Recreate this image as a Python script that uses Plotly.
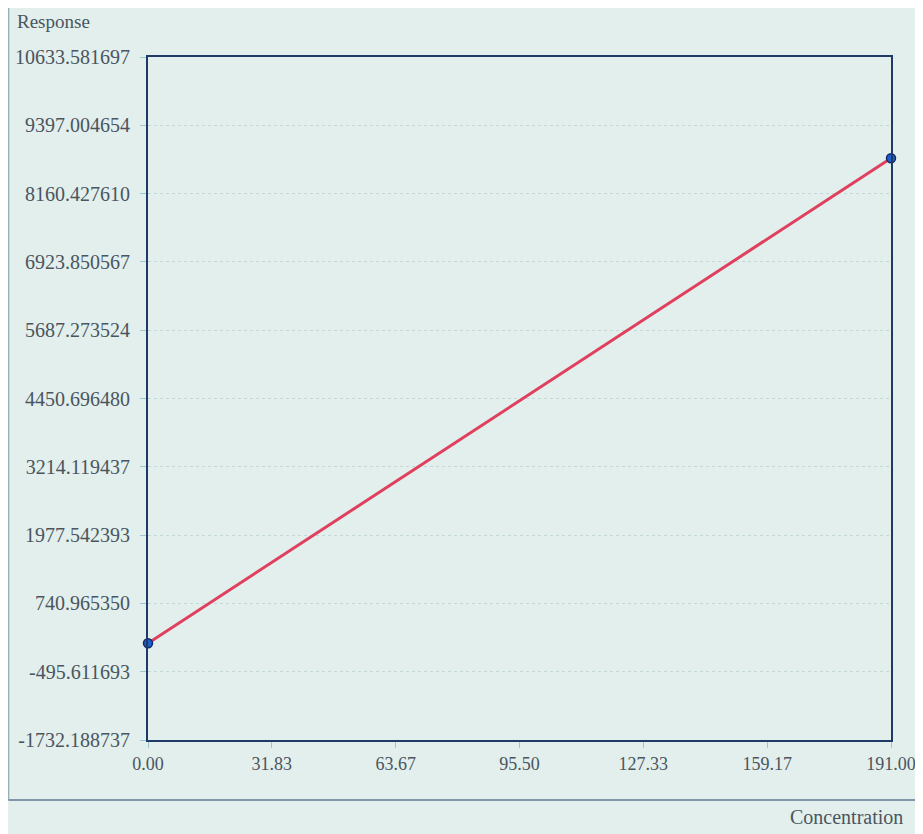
import plotly.graph_objects as go

# Data
concentration = [0.0, 191.0]
response = [20.0, 8800.0]

x_tick_values = [0.0, 31.83, 63.67, 95.50, 127.33, 159.17, 191.00]
x_tick_labels = ["0.00", "31.83", "63.67", "95.50", "127.33", "159.17", "191.00"]

y_tick_values = [-1732.188737, -495.611693, 740.965350, 1977.542393, 3214.119437,
                 4450.696480, 5687.273524, 6923.850567, 8160.427610, 9397.004654,
                 10633.581697]
y_tick_labels = ["-1732.188737", "-495.611693", "740.965350", "1977.542393", "3214.119437",
                 "4450.696480", "5687.273524", "6923.850567", "8160.427610", "9397.004654",
                 "10633.581697"]

font_family = "Liberation Serif, DejaVu Serif, serif"
bg = "#e2efec"
axis_color = "#1f3a66"
text_color = "#4a5560"

fig = go.Figure()
fig.add_trace(go.Scatter(
    x=concentration, y=response, mode="lines+markers",
    line=dict(color="#e0405e", width=3),
    marker=dict(size=9, color="#1f5fc8", line=dict(color="#0d2a66", width=1.5)),
    cliponaxis=False, showlegend=False,
))

fig.update_layout(
    width=923, height=834,
    paper_bgcolor=bg, plot_bgcolor=bg,
    margin=dict(l=140, r=40, t=49, b=102, autoexpand=False),
    font=dict(family=font_family, size=19, color=text_color),
    xaxis=dict(
        range=[x_tick_values[0], x_tick_values[-1]],
        tickvals=x_tick_values, ticktext=x_tick_labels,
        showgrid=False, zeroline=False, automargin=False,
        showline=True, linecolor=axis_color, linewidth=2, mirror=True,
        ticks="outside", ticklen=6, tickcolor="#9fc7cf",
        ticklabeloverflow="allow",
        tickfont=dict(family=font_family, size=18, color=text_color),
    ),
    yaxis=dict(
        range=[y_tick_values[0], y_tick_values[-1]],
        tickvals=y_tick_values, ticktext=y_tick_labels,
        showgrid=True, gridcolor="#c4d8d8", griddash="dot", gridwidth=1,
        zeroline=False, automargin=False,
        showline=True, linecolor=axis_color, linewidth=2, mirror=True,
        ticks="outside", ticklen=6, tickcolor="#9fc7cf",
        ticklabelstandoff=6,
        ticklabeloverflow="allow",
        tickfont=dict(family=font_family, size=20, color=text_color),
    ),
    annotations=[
        dict(text="Response", xref="paper", yref="paper", x=0, y=1,
             xshift=-133, yshift=48, xanchor="left", yanchor="top", showarrow=False,
             font=dict(family=font_family, size=19, color=text_color)),
        dict(text="Concentration", xref="paper", yref="paper", x=1, y=0,
             xshift=14, yshift=-64, xanchor="right", yanchor="top", showarrow=False,
             font=dict(family=font_family, size=20, color=text_color)),
    ],
    shapes=[
        dict(type="line", xref="paper", yref="paper", x0=-0.188, x1=-0.188, y0=-0.088, y1=1.072,
             line=dict(color="#9aaeb8", width=2)),
        dict(type="line", xref="paper", yref="paper", x0=-0.188, x1=1.06, y0=-0.088, y1=-0.088,
             line=dict(color="#7f97a8", width=2)),
    ],
)

fig.write_html("out.html")
